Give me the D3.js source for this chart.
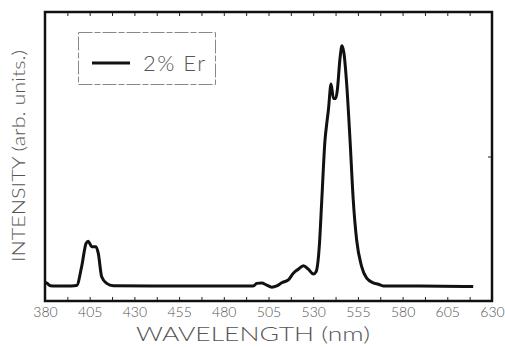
<!DOCTYPE html>
<html>
<head>
<meta charset="utf-8">
<script src="https://cdn.jsdelivr.net/npm/d3@7"></script>
<style>
  body { margin: 0; background: #fff; }
  svg text { font-family: Lato, "DejaVu Sans", sans-serif; font-weight: 300; }
</style>
</head>
<body>
<div id="chart"></div>
<script>
// spectrum (wavelength nm, intensity arb. units 0-100)
const wavelength = [380, 381, 383, 386, 392, 397.7, 400.5, 403, 404.2, 406.1, 408.5, 409.8, 411.7, 414.5, 418.2,
  440, 470, 496.5, 498.4, 501.2, 504, 506.8, 509.6, 512.4, 516.1, 518.9, 521.7, 524.5, 527.3, 530.1, 531.6,
  533.4, 534.8, 536.6, 537.6, 538.5, 540, 541.3, 542.6, 543.5, 545, 546.1, 547.2, 548.7, 550.6, 552.4,
  554.3, 557.1, 559.9, 563.6, 566.4, 569.2, 590, 619.5];
const intensity = [6.4, 6.2, 5.3, 5.2, 5.2, 5.4, 11.9, 20.0, 20.7, 18.8, 18.8, 16.5, 8.4, 6.1, 5.3,
  5.2, 5.2, 5.2, 6.1, 6.2, 5.5, 4.8, 5.2, 6.3, 7.3, 9.6, 11.0, 12.2, 11.0, 9.3, 10.1,
  18.8, 34.9, 55.7, 61.5, 66.1, 75.1, 70.1, 70.1, 73.0, 84.0, 88.3, 85.7, 75.3, 55.7, 34.9,
  21.1, 11.9, 7.9, 6.3, 5.8, 5.2, 5.2, 5.0];
const xTicks = [380, 405, 430, 455, 480, 505, 530, 555, 580, 605, 630];
const legendLabel = "2% Er";

const width = 505, height = 347;
const mLeft = 45, mRight = 492, mTop = 12, mBottom = 301;

const svg = d3.select("#chart").append("svg").attr("width", width).attr("height", height);

const x = d3.scaleLinear().domain([380, 630]).range([mLeft, mRight]);
const y = d3.scaleLinear().domain([0, 100]).range([mBottom, mTop]);

// minor ticks every 12.5 nm, inward on bottom and top
const minor = d3.range(380, 630.1, 12.5);
svg.append("g").attr("transform", `translate(0,${mBottom})`)
  .call(d3.axisTop(x).tickValues(minor).tickSize(4).tickFormat(""))
  .call(g => g.select(".domain").remove())
  .call(g => g.selectAll("line").attr("stroke", "#222"));
svg.append("g").attr("transform", `translate(0,${mTop})`)
  .call(d3.axisBottom(x).tickValues(minor).tickSize(4).tickFormat(""))
  .call(g => g.select(".domain").remove())
  .call(g => g.selectAll("line").attr("stroke", "#222"));
svg.append("g").attr("transform", `translate(${mRight},0)`)
  .call(d3.axisLeft(y).tickValues([50]).tickSize(4).tickFormat(""))
  .call(g => g.select(".domain").remove())
  .call(g => g.selectAll("line").attr("stroke", "#222"));

// tick labels
svg.append("g").attr("transform", `translate(0,${mBottom})`)
  .call(d3.axisBottom(x).tickValues(xTicks).tickSize(0).tickPadding(6).tickFormat(d3.format("d")))
  .call(g => g.select(".domain").remove())
  .call(g => g.selectAll("text")
    .attr("fill", "#555")
    .style("font-size", "14px")
    .style("font-family", "Lato, sans-serif")
    .style("font-weight", 300));

// frame
svg.append("rect")
  .attr("x", mLeft).attr("y", mTop)
  .attr("width", mRight - mLeft).attr("height", mBottom - mTop)
  .attr("fill", "none").attr("stroke", "#111").attr("stroke-width", 2.5);

// curve
const line = d3.line()
  .x((d, i) => x(wavelength[i]))
  .y(d => y(d))
  .curve(d3.curveMonotoneX);
svg.append("path")
  .datum(intensity)
  .attr("d", line)
  .attr("fill", "none")
  .attr("stroke", "#111")
  .attr("stroke-width", 3)
  .attr("stroke-linejoin", "round");

// legend
svg.append("rect")
  .attr("x", 78.5).attr("y", 32.5).attr("width", 137).attr("height", 52)
  .attr("fill", "none").attr("stroke", "#888").attr("stroke-width", 1)
  .attr("stroke-dasharray", "14 2 6 2");
svg.append("line")
  .attr("x1", 92).attr("x2", 130).attr("y1", 63).attr("y2", 63)
  .attr("stroke", "#111").attr("stroke-width", 3);
svg.append("text")
  .attr("x", 143).attr("y", 71)
  .attr("fill", "#555")
  .attr("textLength", 62)
  .attr("lengthAdjust", "spacing")
  .style("font-size", "22px")
  .text(legendLabel);

// axis titles
svg.append("text")
  .attr("x", 136).attr("y", 341)
  .attr("fill", "#555")
  .attr("textLength", 234)
  .attr("lengthAdjust", "spacingAndGlyphs")
  .style("font-size", "20px")
  .text("WAVELENGTH (nm)");
svg.append("text")
  .attr("transform", `translate(25,262) rotate(-90)`)
  .attr("fill", "#555")
  .attr("textLength", 212)
  .attr("lengthAdjust", "spacingAndGlyphs")
  .style("font-size", "17px")
  .text("INTENSITY (arb. units.)");
</script>
</body>
</html>
